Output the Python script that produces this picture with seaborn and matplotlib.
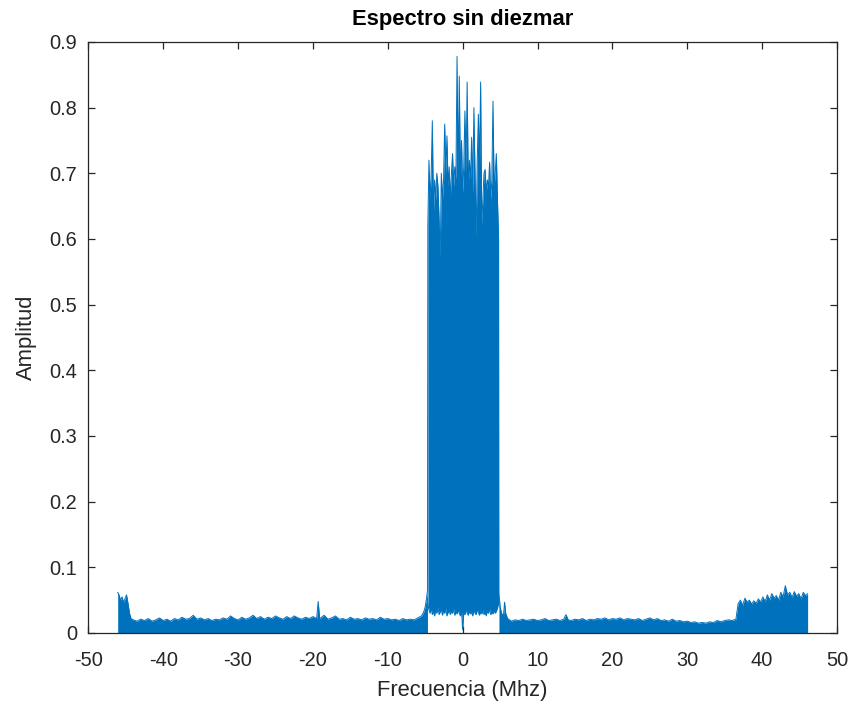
import numpy as np
import matplotlib
matplotlib.use("Agg")
import matplotlib.pyplot as plt
import seaborn as sns

# ---------------- data ----------------
left_freq = [-46.08, -45.9, -45.7, -45.5, -45.3, -45.1, -44.9, -44.7, -44.5, -44.3,
             -44.0, -43.5, -43.0, -42.5, -42.0, -41.5, -41.0, -40.5, -40.0, -39.5,
             -39.0, -38.5, -38.0, -37.5, -37.0, -36.5, -36.0, -35.5, -35.0, -34.5,
             -34.0, -33.5, -33.0, -32.5, -32.0, -31.5, -31.0, -30.5, -30.0, -29.5,
             -29.0, -28.5, -28.0, -27.5, -27.0, -26.5, -26.0, -25.5, -25.0, -24.5,
             -24.0, -23.5, -23.0, -22.5, -22.0, -21.5, -21.0, -20.5, -20.0, -19.5,
             -19.3, -19.1, -18.5, -18.0, -17.5, -17.0, -16.5, -16.0, -15.5, -15.0,
             -14.5, -14.0, -13.5, -13.0, -12.5, -12.0, -11.5, -11.0, -10.5, -10.0,
             -9.5, -9.0, -8.5, -8.0, -7.5, -7.0, -6.5, -6.0, -5.5, -5.2,
             -5.0, -4.8, -4.7]
left_amp = [0.062, 0.058, 0.050, 0.055, 0.047, 0.052, 0.058, 0.045, 0.030, 0.022,
            0.020, 0.018, 0.021, 0.019, 0.022, 0.018, 0.020, 0.023, 0.019, 0.021,
            0.018, 0.022, 0.020, 0.024, 0.021, 0.022, 0.027, 0.021, 0.023, 0.020,
            0.022, 0.019, 0.021, 0.020, 0.023, 0.021, 0.026, 0.022, 0.020, 0.024,
            0.021, 0.023, 0.027, 0.022, 0.025, 0.021, 0.024, 0.022, 0.026, 0.023,
            0.021, 0.025, 0.022, 0.026, 0.023, 0.021, 0.024, 0.022, 0.025, 0.022,
            0.048, 0.022, 0.027, 0.021, 0.023, 0.026, 0.021, 0.022, 0.020, 0.024,
            0.021, 0.022, 0.020, 0.023, 0.021, 0.022, 0.020, 0.024, 0.021, 0.022,
            0.020, 0.021, 0.019, 0.022, 0.020, 0.021, 0.020, 0.023, 0.026, 0.032,
            0.040, 0.055, 0.065]

band_freq = [-4.65, -4.5, -4.35, -4.2, -4.05, -3.9, -3.75, -3.6, -3.45, -3.3,
             -3.15, -3.0, -2.85, -2.7, -2.55, -2.4, -2.25, -2.1, -1.95, -1.8,
             -1.65, -1.5, -1.35, -1.2, -1.05, -0.9, -0.75, -0.6, -0.45, -0.3,
             -0.15, 0.0, 0.15, 0.3, 0.45, 0.6, 0.75, 0.9, 1.05, 1.2,
             1.35, 1.5, 1.65, 1.8, 1.95, 2.1, 2.25, 2.4, 2.55, 2.7,
             2.85, 3.0, 3.15, 3.3, 3.45, 3.6, 3.75, 3.9, 4.05, 4.2,
             4.35, 4.5, 4.65, 4.8]
band_max = [0.62, 0.72, 0.66, 0.70, 0.78, 0.64, 0.69, 0.66, 0.70, 0.68,
            0.63, 0.57, 0.70, 0.66, 0.69, 0.775, 0.70, 0.757, 0.68, 0.71,
            0.66, 0.70, 0.73, 0.68, 0.71, 0.69, 0.878, 0.70, 0.848, 0.69,
            0.75, 0.67, 0.71, 0.795, 0.70, 0.839, 0.68, 0.72, 0.69, 0.755,
            0.67, 0.80, 0.70, 0.60, 0.72, 0.79, 0.71, 0.839, 0.62, 0.66,
            0.70, 0.706, 0.67, 0.69, 0.68, 0.717, 0.66, 0.69, 0.81, 0.68,
            0.70, 0.73, 0.66, 0.60]
band_min = [0.045, 0.035, 0.030, 0.038, 0.028, 0.033, 0.026, 0.035, 0.030, 0.040,
            0.028, 0.032, 0.036, 0.027, 0.034, 0.030, 0.038, 0.026, 0.031, 0.035,
            0.028, 0.033, 0.030, 0.037, 0.027, 0.032, 0.029, 0.035, 0.030, 0.026,
            0.033, 0.005, 0.031, 0.028, 0.036, 0.030, 0.027, 0.034, 0.029, 0.032,
            0.026, 0.035, 0.030, 0.028, 0.036, 0.031, 0.027, 0.033, 0.029, 0.035,
            0.028, 0.031, 0.026, 0.034, 0.030, 0.037, 0.028, 0.032, 0.029, 0.035,
            0.030, 0.033, 0.038, 0.045]

right_freq = [4.85, 5.0, 5.2, 5.45, 5.6, 5.75, 6.0, 6.5, 7.0, 7.5,
              8.0, 8.5, 9.0, 9.5, 10.0, 10.5, 11.0, 11.5, 12.0, 12.5,
              13.0, 13.5, 13.8, 14.1, 14.5, 15.0, 15.5, 16.0, 16.5, 17.0,
              17.5, 18.0, 18.5, 19.0, 19.5, 20.0, 20.5, 21.0, 21.5, 22.0,
              22.5, 23.0, 23.5, 24.0, 24.5, 25.0, 25.5, 26.0, 26.5, 27.0,
              27.5, 28.0, 28.5, 29.0, 29.5, 30.0, 30.5, 31.0, 31.5, 32.0,
              32.5, 33.0, 33.5, 34.0, 34.5, 35.0, 35.5, 36.0, 36.5, 36.8,
              37.1, 37.4, 37.7, 38.0, 38.3, 38.6, 38.9, 39.2, 39.5, 39.8,
              40.1, 40.4, 40.7, 41.0, 41.3, 41.6, 41.9, 42.2, 42.5, 42.8,
              43.1, 43.4, 43.7, 44.0, 44.3, 44.6, 44.9, 45.2, 45.5, 45.8,
              46.08]
right_amp = [0.060, 0.040, 0.030, 0.026, 0.047, 0.030, 0.022, 0.018, 0.020, 0.019,
             0.021, 0.019, 0.020, 0.021, 0.019, 0.020, 0.022, 0.019, 0.020, 0.021,
             0.019, 0.021, 0.028, 0.020, 0.019, 0.021, 0.020, 0.022, 0.019, 0.021,
             0.020, 0.022, 0.021, 0.023, 0.020, 0.022, 0.021, 0.023, 0.020, 0.022,
             0.021, 0.020, 0.022, 0.019, 0.021, 0.023, 0.020, 0.022, 0.019, 0.020,
             0.018, 0.021, 0.018, 0.019, 0.017, 0.018, 0.016, 0.017, 0.015, 0.016,
             0.015, 0.017, 0.016, 0.019, 0.017, 0.019, 0.020, 0.019, 0.021, 0.045,
             0.050, 0.042, 0.053, 0.047, 0.050, 0.044, 0.049, 0.045, 0.052, 0.047,
             0.055, 0.048, 0.058, 0.050, 0.060, 0.053, 0.057, 0.050, 0.062, 0.055,
             0.072, 0.058, 0.062, 0.054, 0.063, 0.056, 0.060, 0.052, 0.062, 0.057,
             0.060]

x_ticks = [-50, -40, -30, -20, -10, 0, 10, 20, 30, 40, 50]
y_ticks = [0, 0.1, 0.2, 0.3, 0.4, 0.5, 0.6, 0.7, 0.8, 0.9]
y_tick_labels = ["0", "0.1", "0.2", "0.3", "0.4", "0.5", "0.6", "0.7", "0.8", "0.9"]

# ---------------- style ----------------
sns.set_style("white")
plt.rcParams["font.family"] = ["Liberation Sans", "DejaVu Sans"]
BLUE = "#0072BD"
INK = "#262626"

fig = plt.figure(figsize=(8.51, 7.09), dpi=100)
ax = fig.add_axes([0.1038, 0.1072, 0.8797, 0.8336])

# floor segments (filled down to baseline)
ax.fill_between(left_freq, 0, left_amp, color=BLUE, linewidth=0)
ax.fill_between(right_freq, 0, right_amp, color=BLUE, linewidth=0)
# central band
ax.fill_between(band_freq, band_min, band_max, color=BLUE, linewidth=0)

top_x = np.concatenate([left_freq, band_freq, right_freq])
top_y = np.concatenate([left_amp, band_max, right_amp])
sns.lineplot(x=top_x, y=top_y, ax=ax, color=BLUE, linewidth=0.7,
             estimator=None, sort=False)
sns.lineplot(x=band_freq, y=band_min, ax=ax, color=BLUE, linewidth=0.7,
             estimator=None, sort=False)

ax.set_xlim(-50, 50)
ax.set_ylim(0, 0.9)
ax.set_xticks(x_ticks)
ax.set_xticklabels([str(t) for t in x_ticks])
ax.set_yticks(y_ticks)
ax.set_yticklabels(y_tick_labels)

for s in ax.spines.values():
    s.set_visible(True)
    s.set_color(INK)
    s.set_linewidth(0.9)

ax.tick_params(axis="both", which="both", direction="in", length=5, width=0.9,
               color=INK, labelcolor=INK, labelsize=14.4,
               top=True, right=True, bottom=True, left=True)
ax.tick_params(axis="x", pad=13)
ax.tick_params(axis="y", pad=8)

ax.set_xlabel("Frecuencia (Mhz)", fontsize=15.8, color=INK, labelpad=7)
ax.set_ylabel("Amplitud", fontsize=15.8, color=INK, labelpad=9)
ax.set_title("Espectro sin diezmar", fontsize=15.8, fontweight="bold",
             color="black", pad=12)

fig.savefig("out.png", dpi=100)
